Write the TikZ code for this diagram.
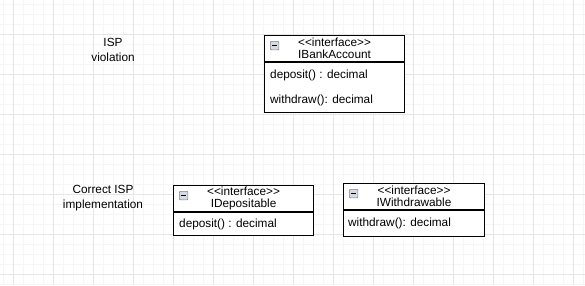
\documentclass[tikz,border=0pt]{standalone}
\usepackage{fontspec}
\setmainfont{Liberation Sans}
\usetikzlibrary{positioning}
\usetikzlibrary{calc}
\tikzset{>=latex}
\definecolor{gridmajor}{HTML}{E6E6E6}
\definecolor{gridminor}{HTML}{F6F6F6}
\definecolor{iconfill}{HTML}{D6DAE2}
\definecolor{iconline}{HTML}{7F8590}
\newcommand{\stereo}{<\kern0pt<interface>\kern0pt>}
\tikzstyle{headnode}=[black,draw=black,line width=1.1pt,shape=rectangle,fill=white,inner sep=0pt,anchor=north west,align=center,font=\fontsize{11.8}{12}\selectfont]
\tikzstyle{bodynode}=[black,draw=black,line width=1.1pt,shape=rectangle,fill=white,inner sep=0pt,anchor=north west]
\tikzstyle{opnode}=[black,anchor=west,inner sep=0pt,font=\fontsize{11.8}{12}\selectfont]
\tikzstyle{notenode}=[black,align=center,inner sep=0pt,font=\fontsize{11.8}{15}\selectfont]
\tikzstyle{iconnode}=[draw=iconline,fill=iconfill,line width=0.7pt,rounded corners=0.8pt,minimum size=8.5pt,inner sep=0pt,anchor=north west]

\begin{document}
\begin{tikzpicture}[x=1pt,y=-1pt]
	\useasboundingbox (0,0) rectangle (585,285);
	
	% Background grid
	\foreach \gx in {3,13,...,583} \draw[gridminor,line width=0.7pt] (\gx,0) -- (\gx,285);
	\foreach \gy in {4,14,...,284} \draw[gridminor,line width=0.7pt] (0,\gy) -- (585,\gy);
	\foreach \gx in {13,53,...,573} \draw[gridmajor,line width=0.8pt] (\gx,0) -- (\gx,285);
	\foreach \gy in {34,74,...,274} \draw[gridmajor,line width=0.8pt] (0,\gy) -- (585,\gy);
	
	% Violation
	\node[notenode] (violabel) at (113,50) {ISP\\violation};
	\node[headnode,minimum width=140pt,minimum height=26pt] (bankhead) at (264,35) {\stereo\\IBankAccount};
	\node[bodynode,minimum width=140pt,minimum height=50pt] (bankbody) at (bankhead.south west) {};
	\node[iconnode] (bankicon) at ($(bankhead.north west) + (6,6)$) {};
	\draw[black,line width=1pt] ($(bankicon.west) + (2,0)$) -- ($(bankicon.east) + (-2,0)$);
	\node[opnode] (deposit) at ($(bankbody.north west) + (6,13)$) {deposit() : decimal};
	\node[opnode] (withdraw) at ($(bankbody.north west) + (6,38)$) {withdraw(): decimal};
	
	% Correct implementation
	\node[notenode] (corlabel) at (103,198) {Correct ISP\\implementation};
	\node[headnode,minimum width=140pt,minimum height=26pt] (dephead) at (173,185) {\stereo\\IDepositable};
	\node[bodynode,minimum width=140pt,minimum height=23pt] (depbody) at (dephead.south west) {};
	\node[iconnode] (depicon) at ($(dephead.north west) + (6,6)$) {};
	\draw[black,line width=1pt] ($(depicon.west) + (2,0)$) -- ($(depicon.east) + (-2,0)$);
	\node[opnode] (depop) at ($(depbody.north west) + (6,12.5)$) {deposit() : decimal};
	
	\node[headnode,minimum width=141pt,minimum height=26pt] (withhead) at (343,183) {\stereo\\IWithdrawable};
	\node[bodynode,minimum width=141pt,minimum height=26pt] (withbody) at (withhead.south west) {};
	\node[iconnode] (withicon) at ($(withhead.north west) + (6,6)$) {};
	\draw[black,line width=1pt] ($(withicon.west) + (2,0)$) -- ($(withicon.east) + (-2,0)$);
	\node[opnode] (withop) at ($(withbody.north west) + (5,13)$) {withdraw(): decimal};
	
\end{tikzpicture}
\end{document}
